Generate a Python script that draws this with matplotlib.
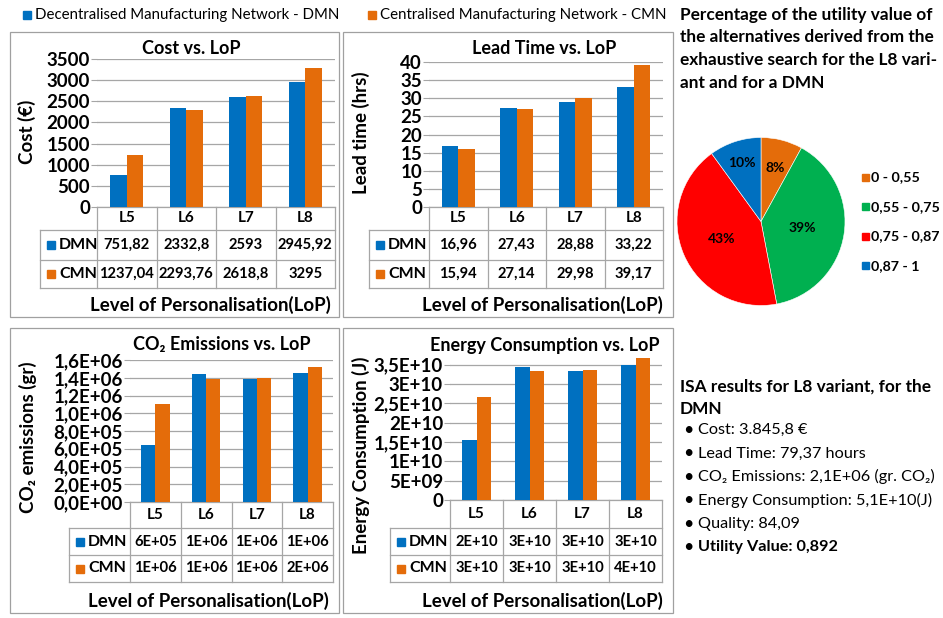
import matplotlib
matplotlib.use('Agg')
import matplotlib.pyplot as plt
from matplotlib.patches import Rectangle
import numpy as np

plt.rcParams['font.family'] = ['Lato', 'DejaVu Sans']

# ---- data ----
levels = ['L5', 'L6', 'L7', 'L8']
series = ['DMN', 'CMN']
series_names = ['Decentralised Manufacturing Network - DMN',
                'Centralised Manufacturing Network - CMN']

cost_dmn = [751.82, 2332.8, 2593, 2945.92]
cost_cmn = [1237.04, 2293.76, 2618.8, 3295]
lead_dmn = [16.96, 27.43, 28.88, 33.22]
lead_cmn = [15.94, 27.14, 29.98, 39.17]
co2_dmn = [6.45e5, 1.44e6, 1.39e6, 1.45e6]
co2_cmn = [1.10e6, 1.39e6, 1.40e6, 1.525e6]
energy_dmn = [1.55e10, 3.45e10, 3.34e10, 3.49e10]
energy_cmn = [2.65e10, 3.34e10, 3.35e10, 3.67e10]

util_ranges = ['0 - 0,55', '0,55 - 0,75', '0,75 - 0,87', '0,87 - 1']
util_pct = [8, 39, 43, 10]

pie_title = ['Percentage of the utility value of',
             'the alternatives derived from the',
             'exhaustive search for the L8 vari-',
             'ant and for a DMN']
isa_title = ['ISA results for L8 variant, for the', 'DMN']
isa_items = ['Cost: 3.845,8 €',
             'Lead Time: 79,37 hours',
             'CO₂ Emissions: 2,1E+06 (gr. CO₂)',
             'Energy Consumption: 5,1E+10(J)',
             'Quality: 84,09',
             'Utility Value: 0,892']

blue = '#0070C0'
orange = '#E46C0A'
green = '#00B050'
red = '#FF0000'
grid_c = '#A6A6A6'
border_c = '#A0A0A0'
table_c = '#A6A6A6'


def fmt_general(v):
    return ('%g' % v).replace('.', ',')


def fmt_sci0(v):
    return '%.0E' % v


def fmt_sci1(v):
    return ('%.1E' % v).replace('.', ',')


def fmt_sci_general(v):
    if v == 0:
        return '0'
    m, e = ('%.1E' % v).split('E')
    m = m.rstrip('0').rstrip('.')
    return (m + 'E' + e).replace('.', ',')


W, H = 943, 618
fig = plt.figure(figsize=(9.43, 6.18), dpi=100)
ov = fig.add_axes([0, 0, 1, 1])
ov.set_xlim(0, W)
ov.set_ylim(H, 0)
ov.axis('off')


def px_axes(x0, y0, x1, y1):
    return fig.add_axes([x0 / W, 1 - y1 / H, (x1 - x0) / W, (y1 - y0) / H])


def draw_chart(box, plot, head_left, rows, dmn, cmn, ylim, yticks, tickfmt,
               cellfmt, title, title_x, ylabel, ylabel_x, ylabel_y, xlabel_x):
    bx0, by0, bx1, by1 = box
    ov.add_patch(Rectangle((bx0, by0), bx1 - bx0, by1 - by0, fill=False,
                           ec=border_c, lw=0.9))
    x0, y0, x1, y1 = plot
    ax = px_axes(x0, y0, x1, y1)
    ax.set_facecolor('none')
    x = np.arange(len(levels))
    w = 0.28
    ax.bar(x - w / 2, dmn, w, color=blue, zorder=3)
    ax.bar(x + w / 2, cmn, w, color=orange, zorder=3)
    ax.set_xlim(-0.5, len(levels) - 0.5)
    ax.set_ylim(*ylim)
    ax.set_yticks(yticks)
    ax.set_yticklabels([tickfmt(t) for t in yticks], fontweight='bold',
                       fontsize=13.5)
    ax.set_xticks([])
    for s in ax.spines.values():
        s.set_visible(False)
    ax.yaxis.grid(True, color=grid_c, lw=0.9)
    ax.set_axisbelow(True)
    ax.tick_params(axis='y', length=4, color=grid_c, pad=1)

    # data table under the axis
    r0, r1, r2, r3 = rows
    cw = (x1 - x0) / len(levels)
    kw = dict(color=table_c, lw=0.9)
    ov.plot([x0, x1], [r0, r0], **kw)
    for r in (r1, r2, r3):
        ov.plot([head_left, x1], [r, r], **kw)
    ov.plot([head_left, head_left], [r1, r3], **kw)
    for i in range(len(levels) + 1):
        ov.plot([x0 + i * cw] * 2, [r0, r3], **kw)
    for i, lvl in enumerate(levels):
        cx = x0 + (i + 0.5) * cw
        ov.text(cx, (r0 + r1) / 2, lvl, ha='center', va='center',
                fontsize=11, fontweight='bold')
        ov.text(cx, (r1 + r2) / 2, cellfmt(dmn[i]), ha='center', va='center',
                fontsize=10.6, fontweight='bold')
        ov.text(cx, (r2 + r3) / 2, cellfmt(cmn[i]), ha='center', va='center',
                fontsize=10.6, fontweight='bold')
    for name, col, (ra, rb) in zip(series, [blue, orange], [(r1, r2), (r2, r3)]):
        mid = (ra + rb) / 2
        ov.add_patch(Rectangle((head_left + 7, mid - 4), 8, 8, color=col))
        ov.text(head_left + 19, mid, name, ha='left', va='center',
                fontsize=11.5, fontweight='bold')

    ov.text(title_x, by0 + 17, title, ha='center', va='center',
            fontsize=13, fontweight='bold')
    ov.text(xlabel_x, by1 - 12, 'Level of Personalisation(LoP)', ha='center',
            va='center', fontsize=13.5, fontweight='bold')
    ov.text(ylabel_x, ylabel_y, ylabel, ha='center', va='center',
            rotation=90, fontsize=13.5, fontweight='bold')


draw_chart((10, 32, 339, 317), (97, 59, 335, 207), 40, (207, 230, 260, 288),
           cost_dmn, cost_cmn, (0, 3500), np.arange(0, 3501, 500), fmt_general,
           fmt_general, 'Cost vs. LoP', 191, 'Cost (€)', 27, 132, 210)
draw_chart((343, 32, 673, 317), (429, 62, 663, 207), 369, (207, 230, 260, 288),
           lead_dmn, lead_cmn, (0, 40), np.arange(0, 41, 5), fmt_general,
           fmt_general, 'Lead Time vs. LoP', 544, 'Lead time (hrs)', 361, 133, 542)
draw_chart((10, 328, 339, 613), (130, 360, 333, 502), 69, (502, 528, 555, 582),
           co2_dmn, co2_cmn, (0, 1.6e6), np.arange(0, 1.61e6, 2e5), fmt_sci1,
           fmt_sci0, 'CO₂ Emissions vs. LoP', 222, 'CO₂ emissions (gr)', 28, 437, 208)
draw_chart((343, 328, 673, 613), (450, 358, 662, 500), 390, (500, 528, 555, 582),
           energy_dmn, energy_cmn, (0, 3.67e10), np.arange(0, 3.51e10, 5e9),
           fmt_sci_general, fmt_sci0, 'Energy Consumption vs. LoP', 545,
           'Energy Consumption (J)', 361, 455, 542)

# top legend
for lx, name, col in zip([23, 368], series_names, [blue, orange]):
    ov.add_patch(Rectangle((lx, 11), 8, 8, color=col))
    ov.text(lx + 12, 15, name, ha='left', va='center', fontsize=10.8)

# pie chart
pie_colors = [orange, green, red, blue]
cx, cy, r = 761, 221.5, 84
pax = px_axes(cx - r, cy - r, cx + r, cy + r)
wedges, _, autotexts = pax.pie(util_pct, colors=pie_colors, startangle=90,
                               counterclock=False, autopct='%d%%',
                               wedgeprops=dict(ec='white', lw=0.4),
                               textprops=dict(fontsize=10, fontweight='bold'))
pax.set_xlim(-1, 1)
pax.set_ylim(-1, 1)
label_dist = [0.66, 0.5, 0.51, 0.73]
for wdg, t, d in zip(wedges, autotexts, label_dist):
    ang = np.deg2rad((wdg.theta1 + wdg.theta2) / 2)
    t.set_position((d * np.cos(ang), d * np.sin(ang)))

for i, line in enumerate(pie_title):
    ov.text(680, 15 + i * 22.5, line, ha='left', va='center', fontsize=12.4,
            fontweight='bold')

for i, (lab, col) in enumerate(zip(util_ranges, pie_colors)):
    yy = 177 + i * 29.6
    ov.add_patch(Rectangle((862, yy - 3.5), 7, 7, color=col))
    ov.text(871, yy, lab, ha='left', va='center', fontsize=10.3, fontweight='bold')

# ISA results
for i, line in enumerate(isa_title):
    ov.text(680, 387 + i * 22.5, line, ha='left', va='center', fontsize=12.4,
            fontweight='bold')
for i, item in enumerate(isa_items):
    yy = 430 + i * 23.4
    wt = 'bold' if i == len(isa_items) - 1 else 'normal'
    ov.text(683, yy, '•', ha='left', va='center', fontsize=13)
    ov.text(698, yy, item, ha='left', va='center', fontsize=11.7, fontweight=wt)

fig.savefig('out.png', dpi=100)
